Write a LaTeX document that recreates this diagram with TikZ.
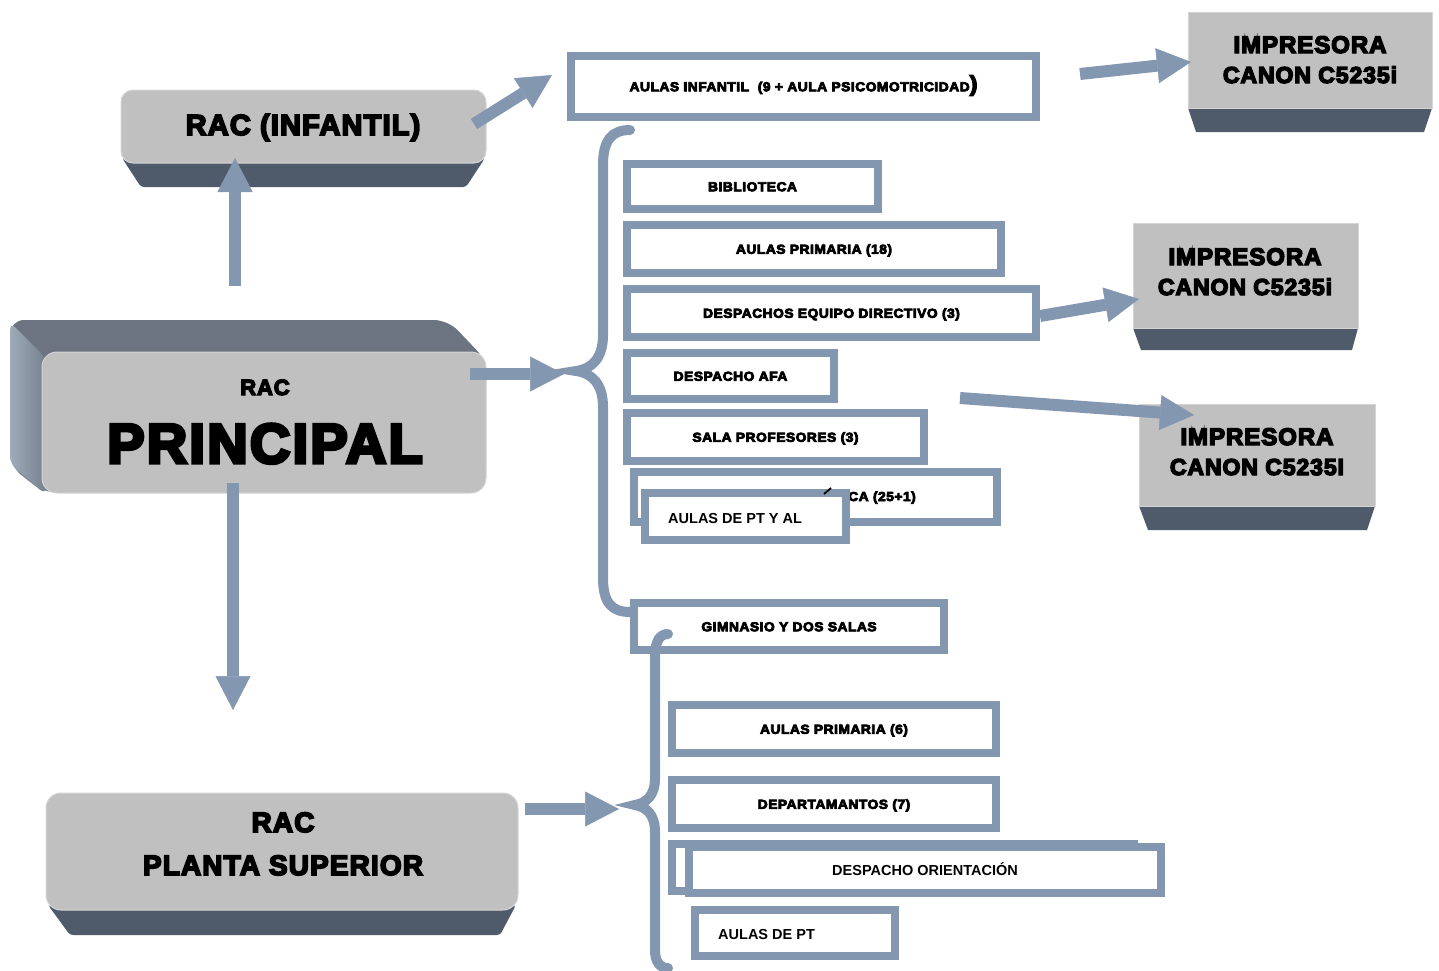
\documentclass[tikz,border=0pt]{standalone}
\usepackage{fontspec}
\setmainfont{Liberation Sans}
\newfontfamily\heavy{Liberation Sans}[BoldFeatures={FakeBold=6,LetterSpace=4}]
\newfontfamily\heavywide{Liberation Sans}[BoldFeatures={FakeBold=6,FakeStretch=1.06,LetterSpace=4}]
\usetikzlibrary{arrows.meta}
\definecolor{boxblue}{HTML}{8497B0}
\definecolor{facegray}{HTML}{C0C0C0}
\definecolor{faceedge}{HTML}{D4D4D4}
\definecolor{darkbase}{HTML}{4F5B6B}
\definecolor{topface}{HTML}{6B7480}
\definecolor{sideA}{HTML}{A0ABBA}
\definecolor{sideB}{HTML}{76818F}
\tikzset{
  face/.style={rectangle, fill=facegray, draw=faceedge, line width=1pt, inner sep=0pt},
  outbox/.style={rectangle, draw=boxblue, line width=8pt, fill=white, inner sep=0pt,
    font=\heavywide\bfseries\fontsize{13}{15}\selectfont, text height=9.5pt, text depth=0pt},
  lbl/.style={font=\heavywide\bfseries\fontsize{13}{15}\selectfont, inner sep=0pt},
  plainlbl/.style={font=\bfseries\fontsize{14.5}{16}\selectfont, inner sep=0pt, anchor=base west},
  bigarrow/.style={draw=boxblue, line width=12pt,
    -{Triangle[width=35pt,length=34pt,line width=0.5pt]}},
  bracepath/.style={draw=boxblue, line width=10pt, line cap=round},
}
\begin{document}
\begin{tikzpicture}[x=1pt,y=-1pt]
\useasboundingbox (0,0) rectangle (1439,970);

% ---------- RAC (INFANTIL) ----------
\fill[darkbase, rounded corners=3pt] (122,158) -- (485,158) -- (466,187) -- (141,187) -- cycle;
\node[face, rounded corners=12pt, minimum width=365pt, minimum height=73pt] (infantil) at (303.5,126.5) {};
\node[font=\heavy\bfseries\fontsize{29}{31}\selectfont, anchor=base, inner sep=0pt] (infantiltxt) at (303,135) {RAC (INFANTIL)};

% ---------- RAC PRINCIPAL (3D) ----------
\fill[topface, rounded corners=14pt] (10,466) -- (10,320) -- (448,320) -- (486,360) -- (486,480) -- (44,493) -- cycle;
\shade[left color=sideA, right color=sideB, rounded corners=8pt] (10,464) -- (10,322) -- (46,358) -- (46,495) -- cycle;
\node[face, rounded corners=15pt, minimum width=444pt, minimum height=141pt] (principal) at (264,422.5) {};
\node[font=\heavy\bfseries\fontsize{22}{24}\selectfont, anchor=base, inner sep=0pt] (principalrac) at (265,395) {RAC};
\node[font=\heavy\bfseries\fontsize{56}{60}\selectfont, anchor=base, inner sep=0pt] (principaltxt) at (265,463) {PRINCIPAL};

% ---------- RAC PLANTA SUPERIOR ----------
\fill[darkbase, rounded corners=3pt] (48,905) -- (516,905) -- (500,935) -- (70,935) -- cycle;
\node[face, rounded corners=15pt, minimum width=472pt, minimum height=117pt] (planta) at (282,851.5) {};
\node[font=\heavy\bfseries\fontsize{28}{30}\selectfont, anchor=base, inner sep=0pt] (plantarac) at (283,832) {RAC};
\node[font=\heavy\bfseries\fontsize{28}{30}\selectfont, anchor=base, inner sep=0pt] (plantatxt) at (283,875) {PLANTA SUPERIOR};

% ---------- Printers ----------
\fill[darkbase] (1188,108) -- (1432,108) -- (1424,132) -- (1196,132) -- cycle;
\node[face, minimum width=244pt, minimum height=96pt] (p1) at (1310,60) {};
\node[font=\heavy\bfseries\fontsize{24}{26}\selectfont, anchor=base, inner sep=0pt] (p1a) at (1310,53) {IMPRESORA};
\node[font=\heavy\bfseries\fontsize{23}{25}\selectfont, anchor=base, inner sep=0pt] (p1b) at (1310,83) {CANON C5235i};

\fill[darkbase] (1133,328) -- (1358,328) -- (1352,350) -- (1141,350) -- cycle;
\node[face, minimum width=225pt, minimum height=105pt] (p2) at (1245.5,275.5) {};
\node[font=\heavy\bfseries\fontsize{24}{26}\selectfont, anchor=base, inner sep=0pt] (p2a) at (1245,265) {IMPRESORA};
\node[font=\heavy\bfseries\fontsize{23}{25}\selectfont, anchor=base, inner sep=0pt] (p2b) at (1245,295) {CANON C5235i};

\fill[darkbase] (1139,506) -- (1375,506) -- (1367,530) -- (1148,530) -- cycle;
\node[face, minimum width=236pt, minimum height=102pt] (p3) at (1257,455) {};
\node[font=\heavy\bfseries\fontsize{24}{26}\selectfont, anchor=base, inner sep=0pt] (p3a) at (1257,445) {IMPRESORA};
\node[font=\heavy\bfseries\fontsize{23}{25}\selectfont, anchor=base, inner sep=0pt] (p3b) at (1257,475) {CANON C5235I};

% ---------- Outline boxes ----------
\node[outbox, minimum width=465pt, minimum height=61pt] (infantilbox) at (803.5,86.5)
  {AULAS INFANTIL\ \ (9 + AULA PSICOMOTRICIDAD{\fontsize{22}{22}\selectfont)}};
\node[outbox, minimum width=251pt, minimum height=45pt] (biblio) at (752.5,186.5) {BIBLIOTECA};
\node[outbox, minimum width=374pt, minimum height=48pt] (prim18) at (814,249) {AULAS PRIMARIA (18)};
\node[outbox, minimum width=409pt, minimum height=48pt] (despachos) at (831.5,313) {DESPACHOS EQUIPO DIRECTIVO (3)};
\node[outbox, minimum width=207pt, minimum height=46pt] (afa) at (730.5,376) {DESPACHO AFA};
\node[outbox, minimum width=297pt, minimum height=48pt] (sala) at (775.5,437) {SALA PROFESORES (3)};
\node[outbox, minimum width=363pt, minimum height=50pt] (cabox) at (815.5,497) {};
\node[lbl, anchor=base east] (catxt) at (916,501) {CA (25+1)};
\node[outbox, minimum width=201pt, minimum height=47pt] (ptal) at (745.5,516.5) {};
\node[plainlbl] (ptaltxt) at (668,523) {AULAS DE PT Y AL};
\draw[black, line width=1.8pt] (824,494) -- (831,488);
\node[outbox, minimum width=310pt, minimum height=47pt] (gim) at (789,626.5) {GIMNASIO Y DOS SALAS};
\node[outbox, minimum width=324pt, minimum height=48pt] (prim6) at (834,729) {AULAS PRIMARIA (6)};
\node[outbox, minimum width=324pt, minimum height=48pt] (depto) at (834,804) {DEPARTAMANTOS (7)};
\node[outbox, minimum width=462pt, minimum height=47pt] (orback) at (903,867.5) {};
\node[outbox, minimum width=472pt, minimum height=46pt, font=\bfseries\fontsize{14.5}{16}\selectfont, text height=10.4pt] (orient) at (925,870) {DESPACHO ORIENTACIÓN};
\node[outbox, minimum width=200pt, minimum height=46pt] (pt) at (795,933) {};
\node[plainlbl] (pttxt) at (718,939) {AULAS DE PT};

% ---------- Braces ----------
\draw[bracepath] (630,130) .. controls (612,130) and (603,140) .. (603,165) -- (603,335)
  .. controls (603,358) and (592,369) .. (576,371)
  .. controls (592,373) and (603,384) .. (603,407) -- (603,578)
  .. controls (603,603) and (612,612) .. (630,612);
\draw[bracepath] (668,634) .. controls (660,634) and (655,641) .. (655,656) -- (655,778)
  .. controls (655,796) and (646,803) .. (635,805)
  .. controls (646,807) and (655,814) .. (655,832) -- (655,950)
  .. controls (655,962) and (660,968) .. (668,968);

% ---------- Arrows ----------
\coordinate (upS) at (235,286);  \coordinate (upE) at (235,158);
\coordinate (dnS) at (233,483);  \coordinate (dnE) at (233,710);
\coordinate (rtS) at (470,374);  \coordinate (rtE) at (564,374);
\coordinate (dgS) at (474,124);  \coordinate (dgE) at (552,75);
\coordinate (psS) at (525,809);  \coordinate (psE) at (619,809);
\coordinate (p1S) at (1080,74);  \coordinate (p1E) at (1191,62);
\coordinate (p2S) at (1040,316); \coordinate (p2E) at (1139,299);
\coordinate (p3S) at (960,398);  \coordinate (p3E) at (1194,415);
\draw[bigarrow] (upS) -- (upE);
\draw[bigarrow] (dnS) -- (dnE);
\draw[bigarrow] (rtS) -- (rtE);
\draw[bigarrow] (dgS) -- (dgE);
\draw[bigarrow] (psS) -- (psE);
\draw[bigarrow] (p1S) -- (p1E);
\draw[bigarrow] (p2S) -- (p2E);
\draw[bigarrow] (p3S) -- (p3E);
\end{tikzpicture}
\end{document}
